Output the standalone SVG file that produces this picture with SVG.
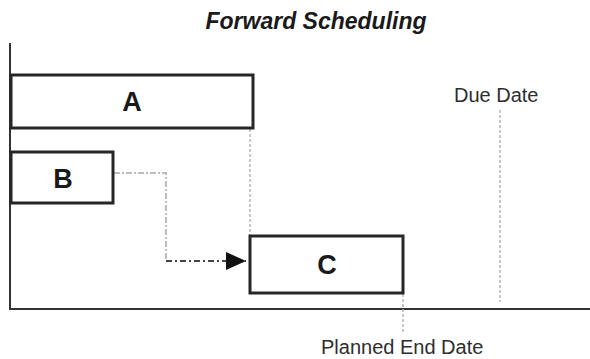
<svg xmlns="http://www.w3.org/2000/svg" width="590" height="359" viewBox="0 0 590 359">
  <style>
    .box { fill: #ffffff; stroke: #262626; stroke-width: 3; }
    .lbl { font-family: "Liberation Sans", Arial, sans-serif; font-weight: bold; font-size: 27px; fill: #1a1a1a; text-anchor: middle; }
    .note { font-family: "Liberation Sans", Arial, sans-serif; font-size: 20px; fill: #2e2e2e; }
    .axis { stroke: #333333; stroke-width: 2; fill: none; }
    .guide { stroke: #b5b5b5; stroke-width: 1.5; stroke-dasharray: 3 2; fill: none; }
    .conn { stroke: #bdbdbd; stroke-width: 2; stroke-dasharray: 6 2 2 2; fill: none; }
    .conn2 { stroke: #444444; stroke-width: 2; stroke-dasharray: 6 3 2 3; fill: none; }
  </style>
  <defs>
    <marker id="arrow" markerWidth="20" markerHeight="18" refX="20" refY="9" orient="auto" markerUnits="userSpaceOnUse">
      <path d="M0,0 L20,9 L0,18 Z" fill="#111111"/>
    </marker>
  </defs>
  <rect width="590" height="359" fill="#ffffff"/>
  <text x="316" y="29" font-family="Liberation Sans, Arial, sans-serif" font-size="23" font-weight="bold" font-style="italic" fill="#1a1a1a" text-anchor="middle">Forward Scheduling</text>
  <g id="axes">
    <line class="axis" x1="10" y1="43" x2="10" y2="309"/>
    <line class="axis" x1="9" y1="309" x2="590" y2="309"/>
  </g>
  <g id="guides">
    <line class="guide" x1="250" y1="129" x2="250" y2="235"/>
    <line class="guide" x1="500" y1="110" x2="500" y2="302"/>
    <line class="guide" x1="403" y1="294" x2="403" y2="333"/>
  </g>
  <g id="connectors">
    <path class="conn" d="M114,173 H166 V261"/>
    <path class="conn2" d="M166,261 H246" marker-end="url(#arrow)"/>
  </g>
  <g id="A">
    <rect class="box" x="11" y="75" width="242" height="53"/>
    <text class="lbl" x="132" y="111">A</text>
  </g>
  <g id="B">
    <rect class="box" x="11" y="152" width="102" height="51"/>
    <text class="lbl" x="63" y="188">B</text>
  </g>
  <g id="C">
    <rect class="box" x="250" y="236" width="153" height="57"/>
    <text class="lbl" x="327" y="274">C</text>
  </g>
  <g id="labels">
    <text class="note" x="454" y="102">Due Date</text>
    <text class="note" x="321" y="354">Planned End Date</text>
  </g>
</svg>
